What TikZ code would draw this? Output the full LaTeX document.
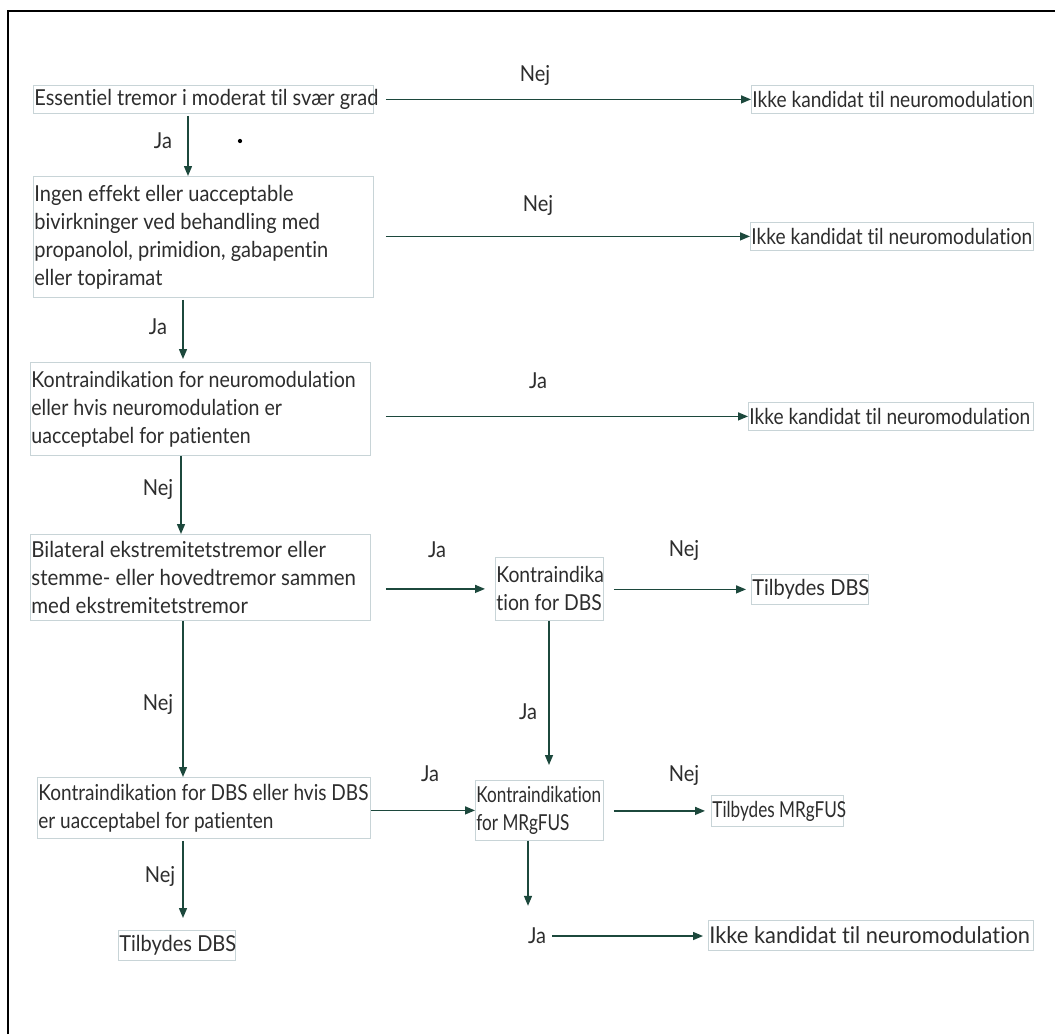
\documentclass[tikz,border=0pt]{standalone}
\usepackage{fontspec}
\setmainfont{Lato}[FakeStretch=0.91, Ligatures=NoCommon]
\usetikzlibrary{arrows.meta,calc}
\definecolor{arrowgreen}{RGB}{28,72,60}
\definecolor{boxline}{RGB}{200,212,215}
\definecolor{txt}{RGB}{45,45,45}
\newcommand\oneline[1]{\mbox{#1}}
\begin{document}
\begin{tikzpicture}[x=1pt,y=-1pt,
 box/.style={draw=boxline, line width=0.8pt, inner xsep=1pt, inner ysep=1pt, anchor=north west, align=flush left, text=txt, font=\fontsize{22}{28}\selectfont},
 squeeze/.style={font={\fontsize{22}{28}\selectfont\addfontfeature{FakeStretch=#1}}},
 lbl/.style={text=txt, font=\fontsize{22}{28}\selectfont, inner sep=0pt},
 arr/.style={draw=arrowgreen, line width=1.4pt, -{Triangle[length=10pt,width=8pt]}},
]
\useasboundingbox (0,0) rectangle (1055,1034);
\fill[white] (0,0) rectangle (1055,1034);
\draw[line width=2pt] (8,1034) -- (8,11) -- (1055,11);

% coordinates for vertical lines
\coordinate (c188) at (188,0);
\coordinate (c183) at (183,0);
\coordinate (c181) at (181,0);
\coordinate (c549) at (549,0);
\coordinate (c528) at (528,0);

% boxes
\node[box, text width=338pt, minimum height=28pt] (b1) at (33,85) {\oneline{Essentiel tremor i moderat til svær grad}};
\node[box, squeeze=0.87, text width=280pt, minimum height=28pt] (r1) at (751,85) {\oneline{Ikke kandidat til neuromodulation}};
\node[box, text width=338pt, minimum height=121pt] (b2) at (33,176) {\oneline{Ingen effekt eller uacceptable}\\\oneline{bivirkninger ved behandling med}\\\oneline{propanolol, primidion, gabapentin}\\\oneline{eller topiramat}};
\node[box, squeeze=0.87, text width=281pt, minimum height=28pt] (r2) at (750,222) {\oneline{Ikke kandidat til neuromodulation}};
\node[box, squeeze=0.89, text width=338pt, minimum height=93pt] (b3) at (30,362) {\oneline{Kontraindikation for neuromodulation}\\\oneline{eller hvis neuromodulation er}\\\oneline{uacceptabel for patienten}};
\node[box, squeeze=0.87, text width=283pt, minimum height=28pt] (r3) at (748,402) {\oneline{Ikke kandidat til neuromodulation}};
\node[box, squeeze=0.93, text width=338pt, minimum height=86pt] (b4) at (30,534) {\oneline{Bilateral ekstremitetstremor eller}\\\oneline{stemme- eller hovedtremor sammen}\\\oneline{med ekstremitetstremor}};
\node[box, squeeze=0.88, text width=106pt, minimum height=63pt] (kdbs) at (495,557) {\oneline{Kontraindika}\\\oneline{tion for DBS}};
\node[box, text width=115pt, minimum height=30pt] (tdbs) at (751,574) {\oneline{Tilbydes DBS}};
\node[box, squeeze=0.865, text width=331pt, minimum height=61pt] (b5) at (37,777) {\oneline{Kontraindikation for DBS eller hvis DBS}\\\oneline{er uacceptabel for patienten}};
\node[box, squeeze=0.78, text width=126pt, minimum height=60pt] (kmr) at (475,780) {\oneline{Kontraindikation}\\\oneline{for MRgFUS}};
\node[box, squeeze=0.78, text width=130pt, minimum height=31pt] (tmr) at (711,795) {\oneline{Tilbydes MRgFUS}};
\node[lbl] (ja) at (537,936) {Ja};
\node[box, font={\fontsize{23}{28}\selectfont\addfontfeature{FakeStretch=0.95}}, text width=323pt, minimum height=30pt] (r4) at (708,920) {\oneline{Ikke kandidat til neuromodulation}};
\node[box, text width=115pt, minimum height=30pt] (tdbs2) at (118,930) {\oneline{Tilbydes DBS}};

% horizontal arrows
\draw[arr, shorten <=12pt] (b1.east) -- (r1.west);
\draw[arr, shorten <=12pt] (b2.east |- r2.west) -- (r2.west);
\draw[arr, shorten <=15pt] (b3.east |- r3.west) -- (r3.west);
\draw[arr, shorten <=15pt, shorten >=10pt] (b4.east |- kdbs.west) -- (kdbs.west);
\draw[arr, shorten <=10pt, shorten >=5pt] (kdbs.east |- tdbs.west) -- (tdbs.west);
\draw[arr] (b5.east |- kmr.west) -- (kmr.west);
\draw[arr, shorten <=10pt, shorten >=6pt] (kmr.east |- tmr.west) -- (tmr.west);
\draw[arr, shorten <=6pt, shorten >=5pt] (ja.east) -- (ja.east -| r4.west);

% vertical arrows
\draw[arr, shorten <=2pt] (b1.south -| c188) -- (b2.north -| c188);
\draw[arr, shorten <=2pt, shorten >=3pt] (b2.south -| c183) -- (b3.north -| c183);
\draw[arr] (b3.south -| c181) -- (b4.north -| c181);
\draw[arr] (b4.south -| c183) -- (b5.north -| c183);
\draw[arr, shorten <=2pt, shorten >=12pt] (b5.south -| c183) -- (tdbs2.north -| c183);
\draw[arr, shorten >=15pt] (kdbs.south -| c549) -- (kmr.north -| c549);
\draw[arr, shorten >=22pt] (kmr.south -| c528) -- (ja.north -| c528);

% labels
\node[lbl] (l1) at (535,75) {Nej};
\node[lbl] (l2) at (163,141) {Ja};
\node[circle, fill=black, inner sep=1.5pt] (dot) at (240,141) {};
\node[lbl] (l3) at (538,205) {Nej};
\node[lbl] (l4) at (158,327) {Ja};
\node[lbl] (l5) at (538,381) {Ja};
\node[lbl] (l6) at (158,489) {Nej};
\node[lbl] (l7) at (437,550) {Ja};
\node[lbl] (l8) at (684,550) {Nej};
\node[lbl] (l9) at (158,704) {Nej};
\node[lbl] (l10) at (528,712) {Ja};
\node[lbl] (l11) at (430,774) {Ja};
\node[lbl] (l12) at (684,775) {Nej};
\node[lbl] (l13) at (160,876) {Nej};
\end{tikzpicture}
\end{document}
